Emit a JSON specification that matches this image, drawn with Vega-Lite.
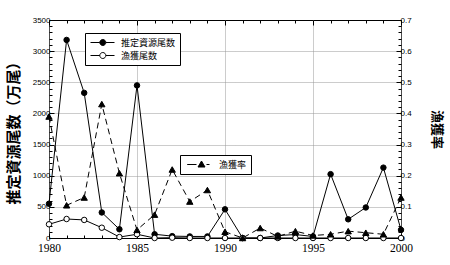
{
  "$schema": "https://vega.github.io/schema/vega-lite/v6.json",
  "width": 352,
  "height": 218,
  "autosize": "none",
  "padding": {"left": 49, "top": 20, "right": 49, "bottom": 27},
  "background": "white",
  "config": {
    "view": {"stroke": "black", "strokeWidth": 1},
    "axis": {"domain": false, "tickColor": "black", "labelColor": "black", "titleColor": "black"}
  },
  "data": {
    "values": [
      {"year": 1980, "series": "推定資源尾数", "value": 550},
      {"year": 1981, "series": "推定資源尾数", "value": 3180},
      {"year": 1982, "series": "推定資源尾数", "value": 2330},
      {"year": 1983, "series": "推定資源尾数", "value": 410},
      {"year": 1984, "series": "推定資源尾数", "value": 140},
      {"year": 1985, "series": "推定資源尾数", "value": 2450},
      {"year": 1986, "series": "推定資源尾数", "value": 60},
      {"year": 1987, "series": "推定資源尾数", "value": 30},
      {"year": 1988, "series": "推定資源尾数", "value": 25},
      {"year": 1989, "series": "推定資源尾数", "value": 25},
      {"year": 1990, "series": "推定資源尾数", "value": 460},
      {"year": 1991, "series": "推定資源尾数", "value": 0},
      {"year": 1992, "series": "推定資源尾数", "value": 0},
      {"year": 1993, "series": "推定資源尾数", "value": 40},
      {"year": 1994, "series": "推定資源尾数", "value": 55},
      {"year": 1995, "series": "推定資源尾数", "value": 25},
      {"year": 1996, "series": "推定資源尾数", "value": 1025},
      {"year": 1997, "series": "推定資源尾数", "value": 300},
      {"year": 1998, "series": "推定資源尾数", "value": 490},
      {"year": 1999, "series": "推定資源尾数", "value": 1130},
      {"year": 2000, "series": "推定資源尾数", "value": 130},
      {"year": 1980, "series": "漁獲尾数", "value": 220},
      {"year": 1981, "series": "漁獲尾数", "value": 305},
      {"year": 1982, "series": "漁獲尾数", "value": 290},
      {"year": 1983, "series": "漁獲尾数", "value": 165},
      {"year": 1984, "series": "漁獲尾数", "value": 15},
      {"year": 1985, "series": "漁獲尾数", "value": 60},
      {"year": 1986, "series": "漁獲尾数", "value": 0},
      {"year": 1987, "series": "漁獲尾数", "value": 5},
      {"year": 1988, "series": "漁獲尾数", "value": 0},
      {"year": 1989, "series": "漁獲尾数", "value": 0},
      {"year": 1990, "series": "漁獲尾数", "value": 0},
      {"year": 1991, "series": "漁獲尾数", "value": 0},
      {"year": 1992, "series": "漁獲尾数", "value": 0},
      {"year": 1993, "series": "漁獲尾数", "value": 0},
      {"year": 1994, "series": "漁獲尾数", "value": 0},
      {"year": 1995, "series": "漁獲尾数", "value": 0},
      {"year": 1996, "series": "漁獲尾数", "value": 0},
      {"year": 1997, "series": "漁獲尾数", "value": 0},
      {"year": 1998, "series": "漁獲尾数", "value": 0},
      {"year": 1999, "series": "漁獲尾数", "value": 0},
      {"year": 2000, "series": "漁獲尾数", "value": 0},
      {"year": 1980, "series": "漁獲率", "value": 0.39},
      {"year": 1981, "series": "漁獲率", "value": 0.105},
      {"year": 1982, "series": "漁獲率", "value": 0.13},
      {"year": 1983, "series": "漁獲率", "value": 0.43},
      {"year": 1984, "series": "漁獲率", "value": 0.208},
      {"year": 1985, "series": "漁獲率", "value": 0.026},
      {"year": 1986, "series": "漁獲率", "value": 0.075},
      {"year": 1987, "series": "漁獲率", "value": 0.22},
      {"year": 1988, "series": "漁獲率", "value": 0.117},
      {"year": 1989, "series": "漁獲率", "value": 0.154},
      {"year": 1990, "series": "漁獲率", "value": 0.02},
      {"year": 1991, "series": "漁獲率", "value": 0},
      {"year": 1992, "series": "漁獲率", "value": 0.032},
      {"year": 1993, "series": "漁獲率", "value": 0.005},
      {"year": 1994, "series": "漁獲率", "value": 0.022},
      {"year": 1995, "series": "漁獲率", "value": 0.008},
      {"year": 1996, "series": "漁獲率", "value": 0.012},
      {"year": 1997, "series": "漁獲率", "value": 0.022},
      {"year": 1998, "series": "漁獲率", "value": 0.017},
      {"year": 1999, "series": "漁獲率", "value": 0.012},
      {"year": 2000, "series": "漁獲率", "value": 0.13}
    ]
  },
  "layer": [
    {
      "transform": [{"filter": "datum.series !== '漁獲率'"}],
      "encoding": {
        "x": {
          "field": "year", "type": "quantitative",
          "scale": {"domain": [1980, 2000], "nice": false, "zero": false},
          "axis": {
            "orient": "bottom", "title": null,
            "values": [1980,1981,1982,1983,1984,1985,1986,1987,1988,1989,1990,1991,1992,1993,1994,1995,1996,1997,1998,1999,2000],
            "labelExpr": "datum.value % 5 === 0 ? datum.value + '' : ''",
            "labelFont": "Liberation Serif", "labelFontSize": 11.5, "labelPadding": 9,
            "tickSize": {"condition": {"test": "datum.value % 5 === 0", "value": -5}, "value": -3},
            "grid": true, "gridColor": "#999999", "gridDash": [1, 1],
            "gridOpacity": {"condition": {"test": "datum.value % 5 === 0", "value": 1}, "value": 0},
            "labelFlush": false
          }
        },
        "y": {
          "field": "value", "type": "quantitative",
          "scale": {"domain": [0, 3500], "nice": false},
          "axis": {
            "title": "推定資源尾数（万尾）",
            "titleFont": "Noto Sans CJK JP", "titleFontSize": 15, "titleFontWeight": "bold", "titlePadding": 11,
            "values": [0,100,200,300,400,500,600,700,800,900,1000,1100,1200,1300,1400,1500,1600,1700,1800,1900,2000,2100,2200,2300,2400,2500,2600,2700,2800,2900,3000,3100,3200,3300,3400,3500],
            "labelExpr": "datum.value % 500 === 0 ? datum.value + '' : ''",
            "labelFont": "Liberation Sans", "labelFontSize": 8, "labelPadding": 4,
            "tickSize": {"condition": {"test": "datum.value % 500 === 0", "value": -5}, "value": -3},
            "grid": true, "gridColor": "#999999", "gridDash": [1, 1],
            "gridOpacity": {"condition": {"test": "datum.value % 500 === 0 && datum.value > 0 && datum.value < 3500", "value": 1}, "value": 0}
          }
        }
      },
      "layer": [
        {
          "mark": {"type": "line", "color": "black", "strokeWidth": 1},
          "encoding": {"detail": {"field": "series"}}
        },
        {
          "mark": {"type": "point", "shape": "circle", "size": 30, "stroke": "black", "strokeWidth": 1, "opacity": 1, "fillOpacity": 1},
          "encoding": {
            "fill": {
              "field": "series", "type": "nominal",
              "scale": {"domain": ["推定資源尾数", "漁獲尾数"], "range": ["black", "white"]},
              "legend": {
                "title": null, "orient": "none", "legendX": 36, "legendY": 13,
                "strokeColor": "black", "fillColor": "white", "padding": 4, "cornerRadius": 0,
                "symbolType": "M-0.8,0H1.06M2.26,0H4M1.06,0A0.6,0.6,0,1,1,2.26,0A0.6,0.6,0,1,1,1.06,0Z",
                "symbolSize": 100, "symbolStrokeColor": "black", "symbolStrokeWidth": 1, "symbolFillColor": "black",
                "labelFont": "Noto Sans CJK JP", "labelFontSize": 9, "labelColor": "black", "labelOffset": 21,
                "rowPadding": 2, "columnPadding": 0
              }
            }
          }
        }
      ]
    },
    {
      "transform": [{"filter": "datum.series === '漁獲率'"}],
      "encoding": {
        "x": {
          "field": "year", "type": "quantitative",
          "scale": {"domain": [1980, 2000], "nice": false, "zero": false},
          "axis": {
            "orient": "top", "title": null, "labels": false,
            "values": [1980,1981,1982,1983,1984,1985,1986,1987,1988,1989,1990,1991,1992,1993,1994,1995,1996,1997,1998,1999,2000],
            "tickSize": {"condition": {"test": "datum.value % 5 === 0", "value": -5}, "value": -3},
            "grid": false
          }
        },
        "y": {
          "field": "value", "type": "quantitative",
          "scale": {"domain": [0, 0.7], "nice": false},
          "axis": {
            "orient": "right",
            "title": "漁獲率",
            "titleFont": "Noto Sans CJK JP", "titleFontSize": 13, "titleFontWeight": "bold", "titlePadding": 18,
            "values": [0,0.02,0.04,0.06,0.08,0.1,0.12,0.14,0.16,0.18,0.2,0.22,0.24,0.26,0.28,0.3,0.32,0.34,0.36,0.38,0.4,0.42,0.44,0.46,0.48,0.5,0.52,0.54,0.56,0.58,0.6,0.62,0.64,0.66,0.68,0.7],
            "labelExpr": "abs(datum.value * 10 - round(datum.value * 10)) < 0.001 ? (datum.value === 0 ? '0' : format(datum.value, '.1f')) : ''",
            "labelFont": "Liberation Sans", "labelFontSize": 8, "labelPadding": 4,
            "tickSize": {"condition": {"test": "abs(datum.value * 10 - round(datum.value * 10)) < 0.001", "value": -5}, "value": -3},
            "grid": false
          }
        }
      },
      "layer": [
        {
          "mark": {"type": "line", "color": "black", "strokeWidth": 1, "strokeDash": [6, 4]}
        },
        {
          "mark": {"type": "point", "shape": "triangle-up", "size": 40, "stroke": "black", "strokeWidth": 1, "opacity": 1, "fillOpacity": 1},
          "encoding": {
            "fill": {
              "field": "series", "type": "nominal",
              "scale": {"domain": ["漁獲率"], "range": ["black"]},
              "legend": {
                "title": null, "orient": "none", "legendX": 131, "legendY": 135,
                "strokeColor": "black", "fillColor": "white", "padding": 4, "cornerRadius": 0,
                "symbolType": "M-0.46,0H1.4M1.7,0.5L2.4,-0.7L3.1,0.5ZM3.4,0H4",
                "symbolSize": 100, "symbolStrokeColor": "black", "symbolStrokeWidth": 1,
                "labelFont": "Noto Sans CJK JP", "labelFontSize": 9, "labelColor": "black", "labelOffset": 24,
                "columnPadding": 0
              }
            }
          }
        }
      ]
    }
  ],
  "resolve": {"scale": {"y": "independent", "fill": "independent"}, "axis": {"x": "independent"}}
}
